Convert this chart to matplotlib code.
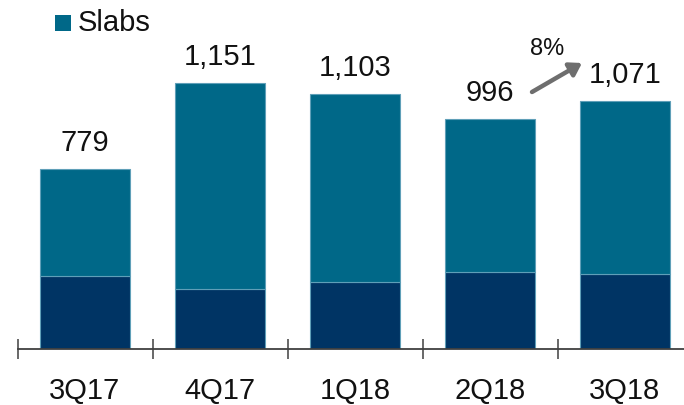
import matplotlib
matplotlib.use("Agg")
import matplotlib.pyplot as plt
from matplotlib.patches import Rectangle

categories = ["3Q17", "4Q17", "1Q18", "2Q18", "3Q18"]
totals = [779, 1151, 1103, 996, 1071]
dark_part = [317, 260, 290, 333, 324]
total_labels = ["779", "1,151", "1,103", "996", "1,071"]
growth_label = "8%"
legend_label = "Slabs"

TEAL = "#006888"
NAVY = "#003464"
EDGE = "#5f9fb8"

plt.rcParams["font.family"] = ["Liberation Sans", "DejaVu Sans"]

W, H = 684, 405
fig = plt.figure(figsize=(W / 100, H / 100), dpi=100)
left = 17.5 / W
bottom = (H - 349) / H
ax = fig.add_axes([left, bottom, 1 - left, 1 - bottom])

x = list(range(len(categories)))
upper = [t - d for t, d in zip(totals, dark_part)]
bw = 90 / 135
ax.bar(x, dark_part, width=bw, color=NAVY, edgecolor=EDGE, linewidth=0.8, zorder=2)
ax.bar(x, upper, bottom=dark_part, width=bw, color=TEAL, edgecolor=EDGE, linewidth=0.8, zorder=2)

ax.set_xlim(-0.5, (W - 85) / 135)
ax.set_ylim(0, 349 / 0.2312)

for s in ["top", "right", "left"]:
    ax.spines[s].set_visible(False)
ax.spines["bottom"].set_color("#404040")
ax.spines["bottom"].set_linewidth(1.3)
ax.spines["bottom"].set_zorder(3)
ax.set_yticks([])
ax.set_xticks([i - 0.5 for i in x])
ax.set_xticklabels([])
ax.tick_params(axis="x", direction="inout", length=14, width=1.1, color="#404040")

for i, (t, lab) in enumerate(zip(totals, total_labels)):
    ax.annotate(lab, xy=(i, t), xytext=(0, 13), textcoords="offset points",
                ha="center", va="baseline", fontsize=21, color="#111111")
    ax.annotate(categories[i], xy=(i, 0), xytext=(0, -36), textcoords="offset points",
                ha="center", va="baseline", fontsize=21, color="#111111")

# growth arrow
ax.annotate("", xy=((582 - 85) / 135, (349 - 63) / 0.2312),
            xytext=((532 - 85) / 135, (349 - 92) / 0.2312),
            arrowprops=dict(arrowstyle="-|>,head_length=0.7,head_width=0.45",
                            color="#6e6e6e", lw=3.2, shrinkA=0, shrinkB=0))
ax.text((547 - 85) / 135, (349 - 55) / 0.2312, growth_label, ha="center", va="baseline",
        fontsize=17, color="#111111")

# legend
fig.patches.append(Rectangle((55 / W, 1 - 31 / H), 16 / W, 16 / H, transform=fig.transFigure,
                             facecolor=TEAL, edgecolor="none"))
fig.text(78 / W, 1 - 31 / H, legend_label, ha="left", va="baseline", fontsize=21, color="#111111")

fig.savefig("out.png", dpi=100)
